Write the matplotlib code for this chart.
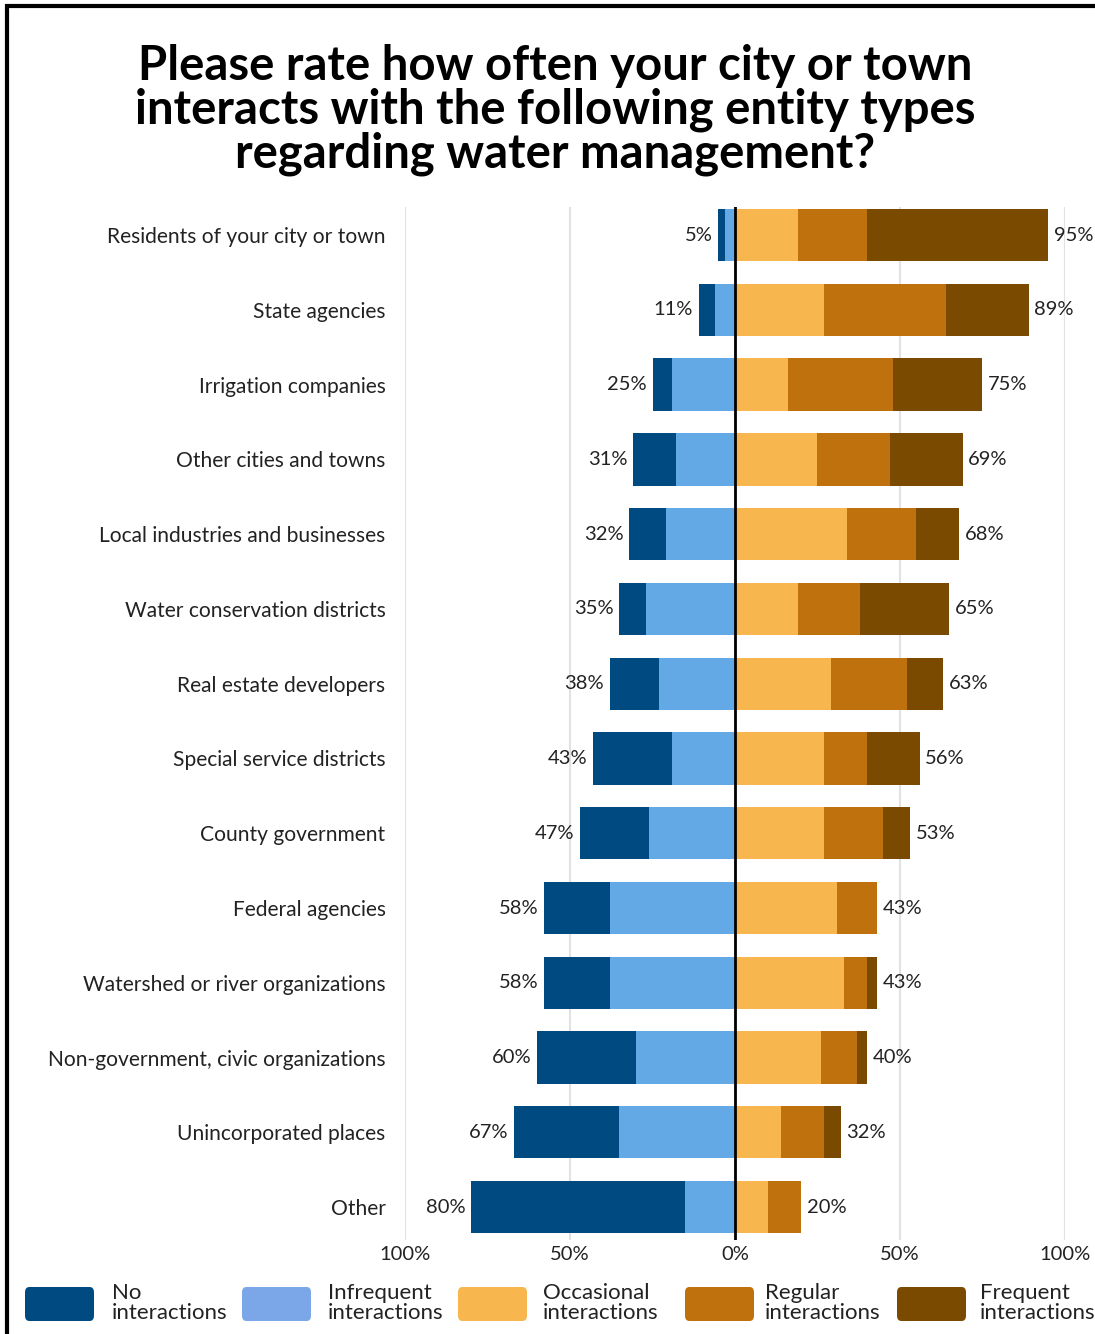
import matplotlib
matplotlib.use("Agg")
import matplotlib.pyplot as plt
from matplotlib.patches import FancyBboxPatch, Rectangle
import numpy as np

plt.rcParams['font.family'] = ['Lato', 'DejaVu Sans']

categories = [
    "Residents of your city or town",
    "State agencies",
    "Irrigation companies",
    "Other cities and towns",
    "Local industries and businesses",
    "Water conservation districts",
    "Real estate developers",
    "Special service districts",
    "County government",
    "Federal agencies",
    "Watershed or river organizations",
    "Non-government, civic organizations",
    "Unincorporated places",
    "Other",
]

no_interactions = [2, 5, 6, 13, 11, 8, 15, 24, 21, 20, 20, 30, 32, 65]
infrequent = [3, 6, 19, 18, 21, 27, 23, 19, 26, 38, 38, 30, 35, 15]
occasional = [19, 27, 16, 25, 34, 19, 29, 27, 27, 31, 33, 26, 14, 10]
regular = [21, 37, 32, 22, 21, 19, 23, 13, 18, 12, 7, 11, 13, 10]
frequent = [55, 25, 27, 22, 13, 27, 11, 16, 8, 0, 3, 3, 5, 0]

left_totals = [5, 11, 25, 31, 32, 35, 38, 43, 47, 58, 58, 60, 67, 80]
right_totals = [95, 89, 75, 69, 68, 65, 63, 56, 53, 43, 43, 40, 32, 20]

tick_values = [-100, -50, 0, 50, 100]
tick_labels = ["100%", "50%", "0%", "50%", "100%"]

legend_labels = ["No\ninteractions", "Infrequent\ninteractions", "Occasional\ninteractions",
                 "Regular\ninteractions", "Frequent\ninteractions"]

c_none = "#004A82"
c_infreq = "#62A9E5"
c_occ = "#F8B74E"
c_reg = "#BE710C"
c_freq = "#7A4A00"
legend_colors = [c_none, "#7BA7E8", c_occ, c_reg, c_freq]
text_color = "#222222"

W, H = 1095, 1334
fig = plt.figure(figsize=(W / 100, H / 100), dpi=100)
fig.patch.set_facecolor("white")

ax_left, ax_right = 405 / W, 1065 / W
ax_top, ax_bottom = 1 - 207 / H, 1 - 1240 / H
ax = fig.add_axes([ax_left, ax_bottom, ax_right - ax_left, ax_top - ax_bottom])

y = np.arange(len(categories))
bh = 0.7

none_a = np.array(no_interactions)
inf_a = np.array(infrequent)
occ_a = np.array(occasional)
reg_a = np.array(regular)
freq_a = np.array(frequent)

# negative side: infrequent next to zero, then no interactions
ax.barh(y, -inf_a, height=bh, color=c_infreq, zorder=2)
ax.barh(y, -none_a, left=-inf_a, height=bh, color=c_none, zorder=2)
# positive side
ax.barh(y, occ_a, height=bh, color=c_occ, zorder=2)
ax.barh(y, reg_a, left=occ_a, height=bh, color=c_reg, zorder=2)
ax.barh(y, freq_a, left=occ_a + reg_a, height=bh, color=c_freq, zorder=2)

for i in range(len(categories)):
    ax.annotate(f"{left_totals[i]}%", xy=(-left_totals[i], y[i]), xytext=(-4, 0),
                textcoords="offset points", ha="right", va="center",
                fontsize=14.5, color=text_color)
    ax.annotate(f"{right_totals[i]}%", xy=(right_totals[i], y[i]), xytext=(4, 0),
                textcoords="offset points", ha="left", va="center",
                fontsize=14.5, color=text_color)

ax.set_xlim(-100, 100)
ax.set_ylim(len(categories) - 1 + 0.44, -0.375)
ax.set_xticks(tick_values)
ax.set_xticklabels(tick_labels, fontsize=14.5, color=text_color)
ax.set_yticks(y)
ax.set_yticklabels(categories, fontsize=15.1, color=text_color)
ax.tick_params(axis="both", length=0)
ax.tick_params(axis="y", pad=14)
ax.tick_params(axis="x", pad=4)
for s in ax.spines.values():
    s.set_visible(False)
ax.grid(axis="x", color="#E2E2E2", linewidth=1.5, zorder=0)
ax.set_axisbelow(True)
ax.axvline(0, color="black", linewidth=2, zorder=3)

fig.text(0.507, 1 - 110 / H,
         "Please rate how often your city or town\ninteracts with the following entity types\nregarding water management?",
         ha="center", va="center", fontsize=34, fontweight="bold", linespacing=0.98,
         color="black")

# legend along the bottom
sw_x = [25, 242, 458, 685, 897]
tx_x = [112, 328, 543, 765, 980]
for sx, tx, col, lab in zip(sw_x, tx_x, legend_colors, legend_labels):
    p = FancyBboxPatch((sx / W, 1 - 1321 / H), 69 / W, 34 / H,
                       boxstyle="round,pad=0,rounding_size=0.004",
                       transform=fig.transFigure, facecolor=col, edgecolor="none")
    fig.add_artist(p)
    fig.text(tx / W, 1 - 1303 / H, lab, ha="left", va="center", fontsize=16,
             linespacing=1.0, color=text_color)

# outer frame
frame = Rectangle((7 / W, -0.05), 1.2, 1 - 6 / H + 0.05, transform=fig.transFigure,
                  fill=False, edgecolor="black", linewidth=3, clip_on=False)
fig.add_artist(frame)

fig.savefig("out.png", dpi=100)
